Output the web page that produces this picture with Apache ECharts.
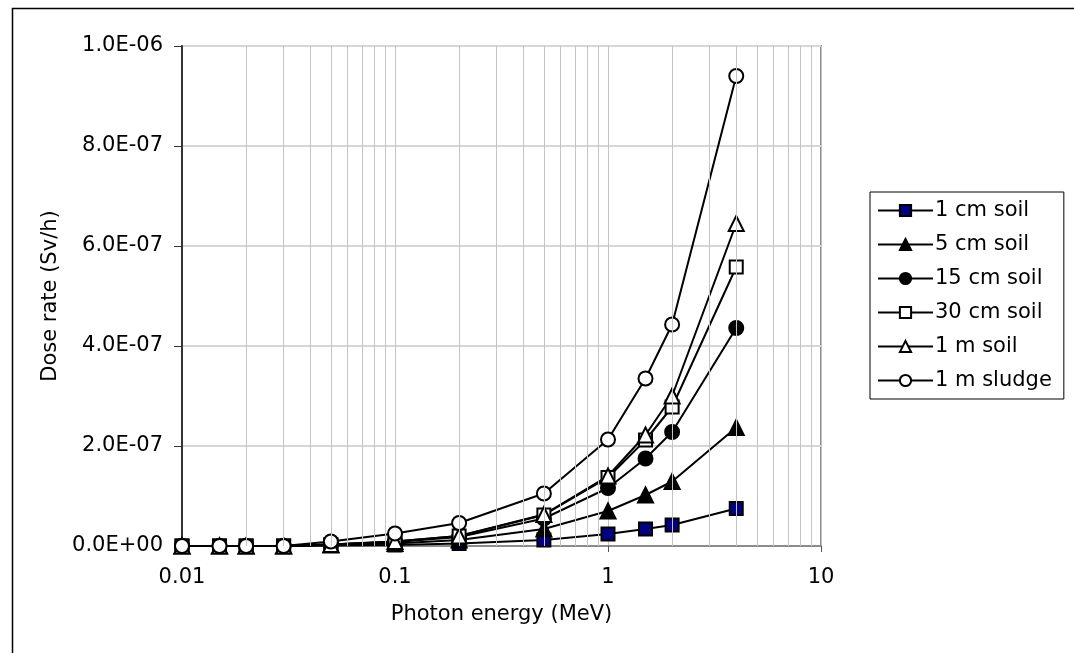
<!DOCTYPE html>
<html>
<head>
<meta charset="UTF-8">
<title>Dose rate vs photon energy</title>
<script src="https://cdn.jsdelivr.net/npm/echarts@6/dist/echarts.min.js"></script>
<style>
  html, body { margin: 0; padding: 0; background: #fff; }
  #chart { width: 1074px; height: 653px; }
</style>
</head>
<body>
<div id="chart"></div>
<script>
// photon energies (MeV)
const energy = [0.01, 0.015, 0.02, 0.03, 0.05, 0.1, 0.2, 0.5, 1, 1.5, 2, 4];

// dose rate (Sv/h) per source depth
const soil1cm  = [0, 0, 0, 0, 1e-9, 2e-9, 5e-9, 1.2e-8, 2.4e-8, 3.4e-8, 4.2e-8, 7.5e-8];
const soil5cm  = [0, 0, 0, 0, 2e-9, 5e-9, 1.2e-8, 3.4e-8, 7.0e-8, 1.02e-7, 1.29e-7, 2.37e-7];
const soil15cm = [0, 0, 0, 0, 3e-9, 8e-9, 1.8e-8, 5.5e-8, 1.16e-7, 1.75e-7, 2.28e-7, 4.36e-7];
const soil30cm = [0, 0, 0, 0, 3e-9, 9e-9, 2.0e-8, 6.2e-8, 1.37e-7, 2.12e-7, 2.78e-7, 5.58e-7];
const soil1m   = [0, 0, 0, 0, 3e-9, 9e-9, 2.0e-8, 6.3e-8, 1.40e-7, 2.22e-7, 3.00e-7, 6.45e-7];
const sludge1m = [0, 0, 0, 0, 9e-9, 2.5e-8, 4.6e-8, 1.05e-7, 2.13e-7, 3.35e-7, 4.43e-7, 9.4e-7];

// minor vertical grid lines of the log axis
const minorX = [0.02, 0.03, 0.04, 0.05, 0.06, 0.07, 0.08, 0.09,
                0.2, 0.3, 0.4, 0.5, 0.6, 0.7, 0.8, 0.9,
                2, 3, 4, 5, 6, 7, 8, 9];

const font = 'DejaVu Sans';
const fs = 21;

function pairs(ys) {
  return energy.map((e, i) => [e, ys[i]]);
}

function sciLabel(v) {
  if (v === 0) return '0.0E+00';
  const s = v.toExponential(1);
  const [m, e] = s.split('e');
  const n = parseInt(e, 10);
  const sign = n < 0 ? '-' : '+';
  const abs = Math.abs(n);
  return m + 'E' + sign + (abs < 10 ? '0' + abs : abs);
}

function mkSeries(name, ys, symbol, size, fill) {
  return {
    name: name,
    type: 'line',
    data: pairs(ys),
    symbol: symbol,
    symbolSize: size,
    showAllSymbol: true,
    lineStyle: { color: '#000', width: 2 },
    itemStyle: { color: fill, borderColor: '#000', borderWidth: 2 },
    emphasis: { disabled: true },
    z: 3
  };
}

const chart = echarts.init(document.getElementById('chart'));
chart.setOption({
  animation: false,
  textStyle: { fontFamily: font },
  graphic: [{
    type: 'rect',
    left: 10, top: 6,
    shape: { width: 1200, height: 800 },
    style: { fill: 'none', stroke: '#000', lineWidth: 1.5 },
    silent: true
  }],
  grid: {
    left: 182, top: 46, right: 253, bottom: 107,
    show: true, borderColor: '#8c8c8c', borderWidth: 2,
    backgroundColor: 'transparent'
  },
  legend: {
    orient: 'vertical',
    left: 870, top: 192,
    padding: [8, 12, 8, 7],
    itemGap: 13,
    itemWidth: 55,
    itemHeight: 14,
    backgroundColor: '#fff',
    borderColor: '#000',
    borderWidth: 1,
    borderRadius: 0,
    textStyle: { fontFamily: font, fontSize: fs, color: '#000', padding: [0, 0, 0, -3] },
    data: ['1 cm soil', '5 cm soil', '15 cm soil', '30 cm soil', '1 m soil', '1 m sludge']
  },
  xAxis: {
    type: 'log',
    logBase: 10,
    min: 0.01,
    max: 10,
    name: 'Photon energy (MeV)',
    nameLocation: 'middle',
    nameGap: 58,
    nameTextStyle: { fontFamily: font, fontSize: fs, color: '#000' },
    axisLine: { lineStyle: { color: '#8c8c8c', width: 2 } },
    axisTick: { show: true, length: 6, lineStyle: { color: '#555' } },
    axisLabel: { fontFamily: font, fontSize: fs, color: '#000', margin: 21 },
    splitLine: { show: true, lineStyle: { color: '#c4c4c4', width: 1 } }
  },
  yAxis: {
    type: 'value',
    min: 0,
    max: 1e-6,
    interval: 2e-7,
    name: 'Dose rate (Sv/h)',
    nameLocation: 'middle',
    nameGap: 121,
    nameTextStyle: { fontFamily: font, fontSize: fs, color: '#000' },
    axisLine: { show: true, lineStyle: { color: '#333', width: 2 } },
    axisTick: { show: true, length: 8, lineStyle: { color: '#333' } },
    axisLabel: { fontFamily: font, fontSize: fs, color: '#000', margin: 19, formatter: sciLabel },
    splitLine: { show: true, lineStyle: { color: '#d6d6d6', width: 2 } }
  },
  series: [
    {
      name: 'minor grid',
      type: 'line',
      data: [],
      silent: true,
      z: 1,
      markLine: {
        silent: true,
        symbol: ['none', 'none'],
        label: { show: false },
        lineStyle: { color: '#c4c4c4', width: 1, type: 'solid' },
        emphasis: { disabled: true },
        data: minorX.map(v => ({ xAxis: v }))
      }
    },
    mkSeries('1 cm soil', soil1cm, 'rect', 13, '#000080'),
    mkSeries('5 cm soil', soil5cm, 'triangle', 15, '#000'),
    mkSeries('15 cm soil', soil15cm, 'circle', 14, '#000'),
    mkSeries('30 cm soil', soil30cm, 'rect', 13, '#fff'),
    mkSeries('1 m soil', soil1m, 'triangle', 15, '#fff'),
    mkSeries('1 m sludge', sludge1m, 'circle', 14, '#fff')
  ]
});
</script>
</body>
</html>
